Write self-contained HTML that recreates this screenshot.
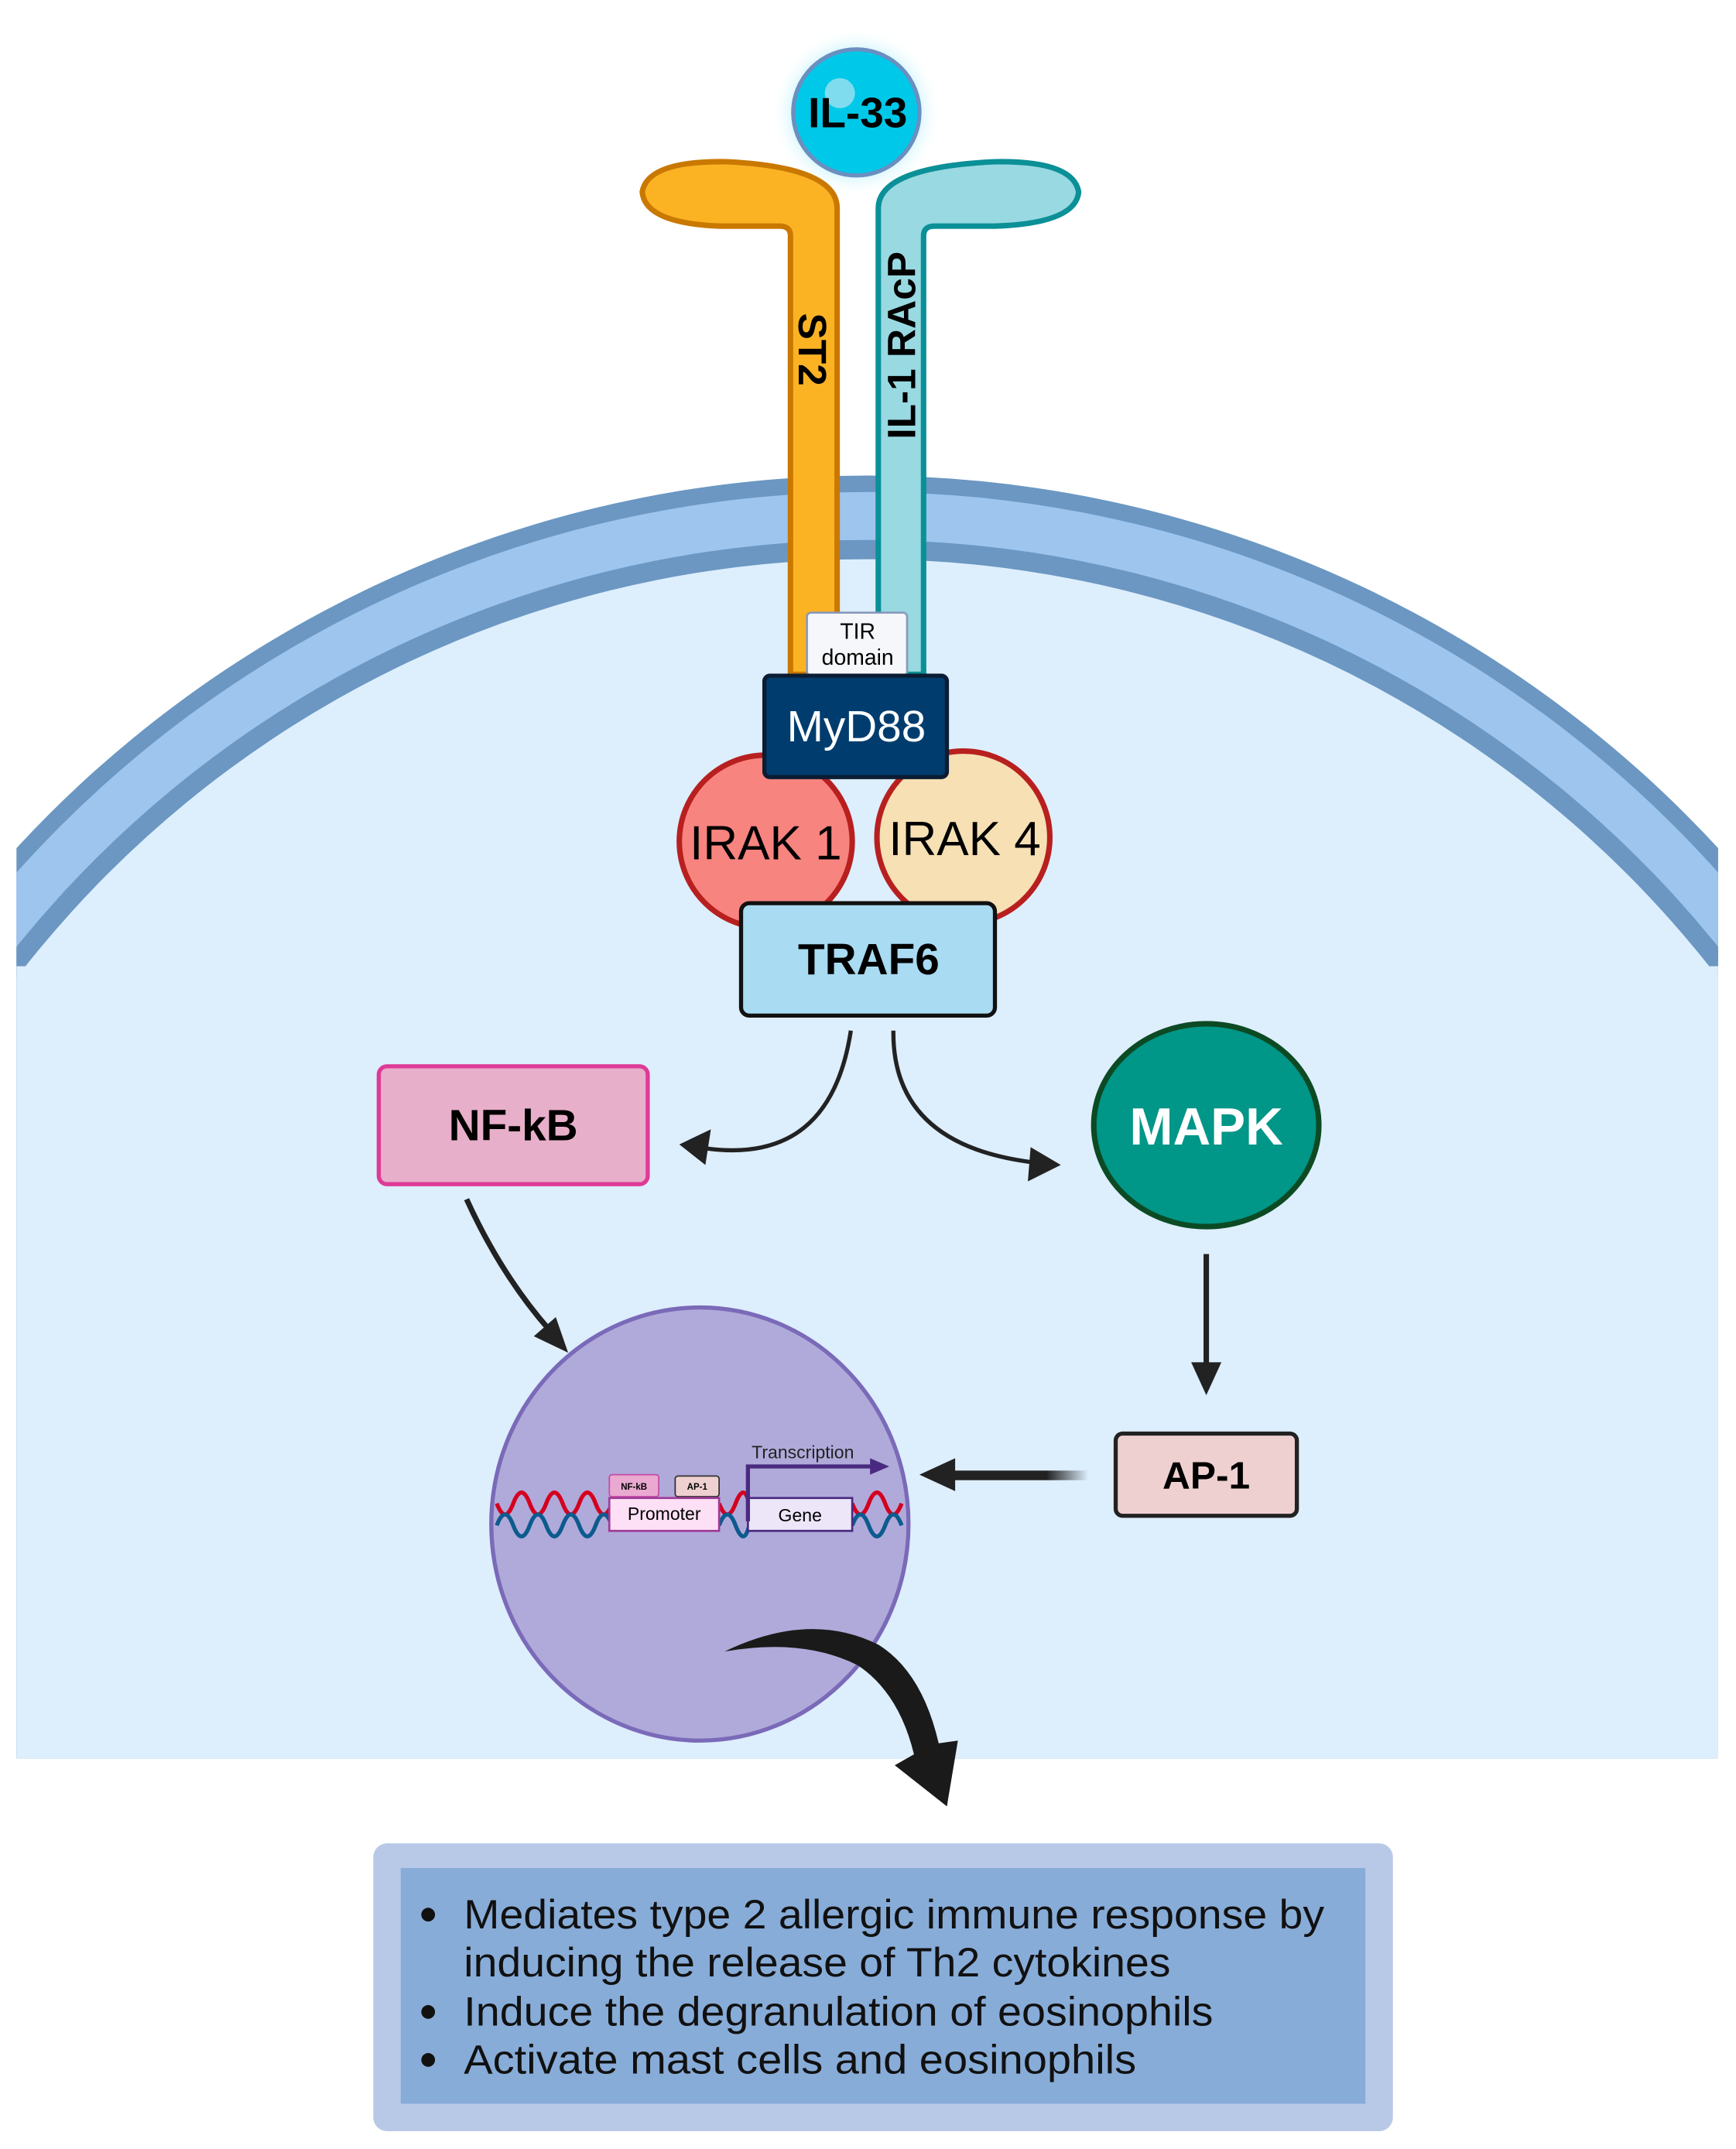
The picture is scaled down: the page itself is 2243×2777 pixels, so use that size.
<!DOCTYPE html>
<html><head><meta charset="utf-8"><style>
html,body{margin:0;padding:0;background:#fff;overflow:hidden;width:2243px;height:2777px}
svg{display:block}
text{font-family:"Liberation Sans",Arial,sans-serif}
</style></head><body>
<svg width="2243" height="2777" viewBox="0 0 1265 1568" preserveAspectRatio="none" xmlns="http://www.w3.org/2000/svg">
<defs>
<clipPath id="cell"><rect x="12" y="0" width="1240" height="1283"/></clipPath>
<radialGradient id="glow"><stop offset="0.6" stop-color="#7fe3f5" stop-opacity="0.7"/><stop offset="1" stop-color="#ffffff" stop-opacity="0"/></radialGradient>
<linearGradient id="fadeL" x1="1" y1="0" x2="0" y2="0"><stop offset="0" stop-color="#222" stop-opacity="0"/><stop offset="0.3" stop-color="#222"/></linearGradient>
</defs>
<rect width="1265" height="1568" fill="#fff"/>
<g clip-path="url(#cell)">
<circle cx="632" cy="1190" r="843" fill="#6b97c2"/>
<circle cx="632" cy="1190" r="831" fill="#9dc5ee"/>
<circle cx="632" cy="1190" r="796" fill="#6b97c2"/>
<circle cx="632" cy="1190" r="782" fill="#ddeefd"/>
<rect x="12" y="705" width="1240" height="578" fill="#ddeefd"/>
</g>
<!-- IL-33 -->
<circle cx="624" cy="82" r="62" fill="url(#glow)"/>
<circle cx="624" cy="82" r="46" fill="#00c8e8" stroke="#6a8fc0" stroke-width="3"/>
<circle cx="612" cy="68" r="11" fill="#7fdcef"/>
<text x="625" y="93" font-size="31" font-weight="bold" text-anchor="middle">IL-33</text>
<!-- ST2 -->
<path d="M576,492 L576,172 Q576,165 568,165 L525,165 Q470,163 468,140 Q472,117 530,118 Q610,122 610,152 L610,492 Z" fill="#fbb324" stroke="#c97800" stroke-width="4"/>
<text transform="translate(582,255) rotate(90)" font-size="29" font-weight="bold" text-anchor="middle">ST2</text>
<!-- IL-1 RAcP -->
<path d="M673,492 L673,172 Q673,165 681,165 L725,165 Q784,163 786,140 Q782,117 725,118 Q640,122 640,152 L640,492 Z" fill="#99d9e2" stroke="#0b9097" stroke-width="4"/>
<text transform="translate(667,252) rotate(-90)" font-size="29" font-weight="bold" text-anchor="middle" textLength="137" lengthAdjust="spacingAndGlyphs">IL-1 RAcP</text>
<!-- TIR -->
<rect x="588" y="447" width="73" height="46" rx="3" fill="#f5f7fb" stroke="#8899bb" stroke-width="1.5"/>
<text x="625" y="466" font-size="16" text-anchor="middle">TIR</text>
<text x="625" y="485" font-size="16" text-anchor="middle">domain</text>
<!-- IRAKs -->
<circle cx="702" cy="611" r="63" fill="#f6e0b4" stroke="#b81f1f" stroke-width="4"/>
<circle cx="558" cy="614" r="63" fill="#f8847f" stroke="#b81f1f" stroke-width="4"/>
<text x="558" y="627" font-size="35" text-anchor="middle">IRAK 1</text>
<text x="703" y="624" font-size="35" text-anchor="middle">IRAK 4</text>
<!-- MyD88 -->
<rect x="557" y="493" width="133" height="74" rx="4" fill="#003d6e" stroke="#0b1c33" stroke-width="3"/>
<text x="624" y="541" font-size="32" fill="#fff" text-anchor="middle">MyD88</text>
<!-- TRAF6 -->
<rect x="540" y="659" width="185" height="82" rx="6" fill="#a9dbf2" stroke="#111" stroke-width="3"/>
<text x="633" y="711" font-size="32" font-weight="bold" text-anchor="middle">TRAF6</text>
<!-- arrows from TRAF6 -->
<path d="M620,752 Q605,850 515,838" fill="none" stroke="#222" stroke-width="3"/>
<path d="M495,835 L518,824 L514,850 Z" fill="#222"/>
<path d="M651,752 Q650,835 752,848" fill="none" stroke="#222" stroke-width="3"/>
<path d="M773,850 L751,837 L749,862 Z" fill="#222"/>
<!-- NF-kB -->
<rect x="276" y="778" width="196" height="86" rx="6" fill="#e8afca" stroke="#de3a96" stroke-width="3"/>
<text x="374" y="832" font-size="32" font-weight="bold" text-anchor="middle">NF-kB</text>
<!-- MAPK -->
<ellipse cx="879" cy="821" rx="82" ry="74" fill="#009688" stroke="#0c4a24" stroke-width="4"/>
<text x="879" y="835" font-size="38" font-weight="bold" fill="#fff" text-anchor="middle">MAPK</text>
<!-- NFkB -> nucleus -->
<path d="M340,875 Q365,930 400,970" fill="none" stroke="#222" stroke-width="4"/>
<path d="M414,987 L389,975 L405,961 Z" fill="#222"/>
<!-- MAPK -> AP1 -->
<line x1="879" y1="915" x2="879" y2="996" stroke="#222" stroke-width="4"/>
<path d="M879,1018 L868,994 L890,994 Z" fill="#222"/>
<!-- AP-1 -->
<rect x="813" y="1046" width="132" height="60" rx="5" fill="#efd0d0" stroke="#222" stroke-width="3"/>
<text x="879" y="1086" font-size="28" font-weight="bold" text-anchor="middle">AP-1</text>
<!-- AP1 -> nucleus -->
<rect x="692" y="1073" width="101" height="7" fill="url(#fadeL)"/>
<path d="M670,1076 L696,1064 L696,1088 Z" fill="#222"/>
<!-- Nucleus -->
<ellipse cx="510" cy="1112" rx="152" ry="158" fill="#b0aada" stroke="#7a6ab8" stroke-width="3"/>
<!-- DNA -->
<path d="M362,1097 q6,16 12,0 t12,0 t12,0 t12,0 t12,0 t12,0 t12,0 M524,1097 q6,16 12,0 t10,0 M621,1097 q6,16 12,0 t12,0 t12,0" fill="none" stroke="#d4001f" stroke-width="3"/>
<path d="M362,1113 q6,-16 12,0 t12,0 t12,0 t12,0 t12,0 t12,0 t12,0 M524,1113 q6,-16 12,0 t10,0 M621,1113 q6,-16 12,0 t12,0 t12,0" fill="none" stroke="#0d5b8e" stroke-width="3"/>
<rect x="444" y="1076" width="36" height="16" rx="2" fill="#e9a9d0" stroke="#c54da6" stroke-width="1"/>
<text x="462" y="1087" font-size="6.5" font-weight="bold" text-anchor="middle">NF-kB</text>
<rect x="492" y="1077" width="32" height="15" rx="2" fill="#efd0d0" stroke="#333" stroke-width="1"/>
<text x="508" y="1087" font-size="6.5" font-weight="bold" text-anchor="middle">AP-1</text>
<rect x="444" y="1093" width="80" height="24" fill="#fde0f5" stroke="#a03a96" stroke-width="1.5"/>
<text x="484" y="1109" font-size="13" text-anchor="middle">Promoter</text>
<rect x="545" y="1093" width="76" height="24" fill="#ece6f8" stroke="#4a2a80" stroke-width="1.5"/>
<text x="583" y="1110" font-size="13" text-anchor="middle">Gene</text>
<path d="M545,1110 L545,1070 L636,1070" fill="none" stroke="#4a2a80" stroke-width="3"/>
<path d="M648,1070 L634,1064 L634,1076 Z" fill="#4a2a80"/>
<text x="585" y="1064" font-size="13" text-anchor="middle" fill="#222">Transcription</text>
<!-- big curved arrow -->
<path d="M528,1205 Q590,1175 640,1200 Q672,1220 684,1272 L698,1270 L690,1318 L652,1288 L666,1280 Q655,1235 625,1215 Q585,1195 528,1205 Z" fill="#1a1a1a"/>
<!-- bottom box -->
<rect x="272" y="1345" width="743" height="210" rx="10" fill="#b8c9e8"/>
<rect x="292" y="1363" width="703" height="172" fill="#88acd8"/>
<g font-size="30" fill="#111">
<circle cx="312" cy="1397" r="5" fill="#111"/>
<text x="338" y="1407" textLength="627" lengthAdjust="spacingAndGlyphs">Mediates type 2 allergic immune response by</text>
<text x="338" y="1442" textLength="515" lengthAdjust="spacingAndGlyphs">inducing the release of Th2 cytokines</text>
<circle cx="312" cy="1468" r="5" fill="#111"/>
<text x="338" y="1478" textLength="546" lengthAdjust="spacingAndGlyphs">Induce the degranulation of eosinophils</text>
<circle cx="312" cy="1503" r="5" fill="#111"/>
<text x="338" y="1513" textLength="490" lengthAdjust="spacingAndGlyphs">Activate mast cells and eosinophils</text>
</g>
</svg>
</body></html>
